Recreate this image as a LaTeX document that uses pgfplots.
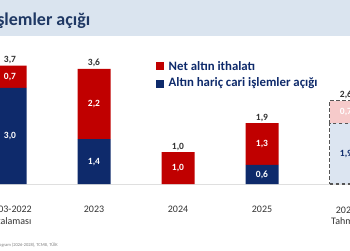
\documentclass[border=0pt]{standalone}
\usepackage{pgfplots}
\pgfplotsset{compat=1.18}
\usepackage{fontspec}
\setmainfont{Carlito}

\definecolor{goldred}{HTML}{C00000}
\definecolor{navy}{HTML}{0E2A6B}
\definecolor{lightpink}{HTML}{F6CACA}
\definecolor{lightblue}{HTML}{DCE5F1}
\definecolor{bandblue}{HTML}{DAE4EF}
\definecolor{titlenavy}{HTML}{1F3864}
\definecolor{labelgray}{HTML}{333333}
\definecolor{outlinegray}{HTML}{555555}

\tikzset{
  seglabel/.style={font=\fontsize{9.5}{10}\selectfont\bfseries, text=white},
  totlabel/.style={font=\fontsize{9.5}{10}\selectfont\bfseries, text=labelgray, anchor=base, yshift=2.8pt},
  catlabel/.style={font=\fontsize{10}{11.5}\selectfont, text=labelgray, anchor=north, align=center, inner sep=0},
}

% shared geometry: 1pt per pixel, bars centred every 84pt, 32pt per unit
\pgfplotsset{
  panel/.style={
    at={(0,0)}, anchor=south west,
    scale only axis, width=350pt, height=250pt,
    xmin=-0.11905, xmax=4.0476,
    ymin=-2.0625, ymax=5.75,
    hide axis, clip=false,
    ybar stacked, bar width=33pt,
  },
}

\begin{document}
\begin{tikzpicture}[x=1pt,y=1pt]
\clip (0,0) rectangle (350,250);
\fill[white] (0,0) rectangle (350,250);
% title band
\fill[bandblue] (0,214) rectangle (350,250);
\node[anchor=base east, inner sep=0, text=titlenavy,
      font=\fontsize{18}{20}\selectfont\bfseries] at (90.5,224.5) {Cari işlemler açığı};
% baseline under the bars
\draw[gray!25, line width=0.8pt] (0,65.5) -- (350,65.5);

% realised values
\begin{axis}[panel]
  % altın hariç cari işlemler açığı
  \addplot[fill=navy, draw=none] coordinates {(0,3.0) (1,1.4) (2,0) (3,0.6)};
  % net altın ithalatı
  \addplot[fill=goldred, draw=none] coordinates {(0,0.7) (1,2.2) (2,1.0) (3,1.3)};
  % anchors for the value labels
  \coordinate (s0a) at (axis cs:0,1.5);
  \coordinate (s0b) at (axis cs:0,3.35);
  \coordinate (s1a) at (axis cs:1,0.7);
  \coordinate (s1b) at (axis cs:1,2.5);
  \coordinate (s2b) at (axis cs:2,0.5);
  \coordinate (s3a) at (axis cs:3,0.3);
  \coordinate (s3b) at (axis cs:3,1.25);
  \coordinate (s4a) at (axis cs:4,0.95);
  \coordinate (s4b) at (axis cs:4,2.25);
  \coordinate (t0) at (axis cs:0,3.7);
  \coordinate (t1) at (axis cs:1,3.6);
  \coordinate (t2) at (axis cs:2,1.0);
  \coordinate (t3) at (axis cs:3,1.9);
  \coordinate (t4) at (axis cs:4,2.6);
  \coordinate (c0) at (axis cs:0,-0.69);
  \coordinate (c1) at (axis cs:1,-0.69);
  \coordinate (c2) at (axis cs:2,-0.69);
  \coordinate (c3) at (axis cs:3,-0.69);
  \coordinate (c4) at (axis cs:4,-0.69);
\end{axis}

% forecast
\begin{axis}[panel]
  \addplot[fill=lightblue, draw=outlinegray, line width=1.1pt, dash pattern=on 3.5pt off 2.5pt]
    coordinates {(4,1.9)};
  \addplot[fill=lightpink, draw=outlinegray, line width=1.1pt, dash pattern=on 3.5pt off 2.5pt]
    coordinates {(4,0.7)};
\end{axis}

% segment values
\node[seglabel] at (s0a) {3,0};
\node[seglabel] at (s0b) {0,7};
\node[seglabel] at (s1a) {1,4};
\node[seglabel] at (s1b) {2,2};
\node[seglabel] at (s2b) {1,0};
\node[seglabel] at (s3a) {0,6};
\node[seglabel] at (s3b) {1,3};
\node[seglabel, text=navy] at (s4a) {1,9};
\node[seglabel] at (s4b) {0,7};
% totals
\node[totlabel] at (t0) {3,7};
\node[totlabel] at (t1) {3,6};
\node[totlabel] at (t2) {1,0};
\node[totlabel] at (t3) {1,9};
\node[totlabel] at (t4) {2,6};
% categories
\node[catlabel] at (c0) {2003-2022\\ortalaması};
\node[catlabel] at (c1) {2023};
\node[catlabel] at (c2) {2024};
\node[catlabel] at (c3) {2025};
\node[catlabel] at (c4) {2026\\Tahmin};

% legend
\fill[goldred] (156,180) rectangle (164,188);
\node[anchor=west, inner sep=0, text=navy, font=\fontsize{12.8}{14}\selectfont\bfseries]
  at (168.5,184) {Net altın ithalatı};
\fill[navy] (156,162.5) rectangle (164,170.5);
\node[anchor=west, inner sep=0, text=navy, font=\fontsize{12.8}{14}\selectfont\bfseries]
  at (168.5,166.5) {Altın hariç cari işlemler açığı};

% source
\node[anchor=base east, inner sep=0, text=gray, font=\fontsize{4.5}{5}\selectfont]
  at (58,3.5) {Kaynak: Orta Vadeli Program (2026-2028), TCMB, TÜİK};
\end{tikzpicture}
\end{document}
